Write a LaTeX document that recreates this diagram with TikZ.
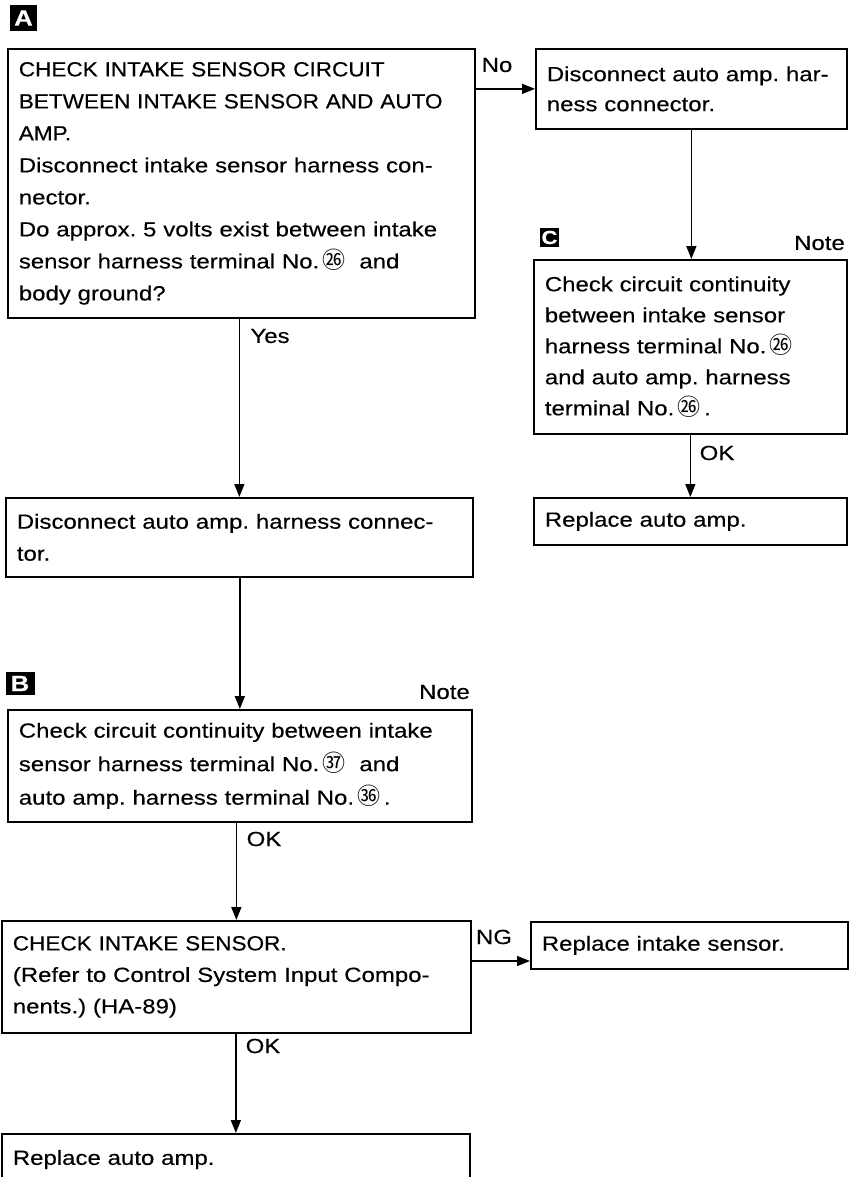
\documentclass[tikz,border=0pt]{standalone}
\usepackage{fontspec}
\setmainfont{Liberation Sans}[FakeStretch=1.17,FakeBold=0.3]
\newfontfamily\capsfont{Liberation Sans}[FakeStretch=1.10,FakeBold=0.3]
\newfontfamily\cjk{Noto Sans CJK JP}
\usetikzlibrary{arrows.meta,calc}
\newcommand{\cnum}[1]{{\cjk\fontsize{23}{23}\selectfont #1}}
\frenchspacing
\begin{document}
\begin{tikzpicture}[x=1pt,y=-1pt,
  box/.style={draw, line width=1.7pt, anchor=north west, align=left,
    inner xsep=11pt, inner ysep=0pt, font=\fontsize{20.5}{32}\selectfont},
  arr/.style={line width=1.5pt, -{Triangle[length=13pt,width=10pt]}},
  lbl/.style={inner sep=0pt, font=\fontsize{20.5}{20.5}\selectfont},
  letterbox/.style={fill=black, text=white, inner sep=0pt,
    font=\bfseries\fontsize{22}{22}\selectfont}]
\useasboundingbox (0,0) rectangle (849,1177);

% markers
\node[letterbox, minimum width=27pt, minimum height=26pt] (mA) at (23.5,18) {A};
\node[letterbox, minimum width=29pt, minimum height=23pt] (mB) at (20,683.5) {B};
\node[letterbox, minimum width=19pt, minimum height=19pt,
      font=\bfseries\fontsize{19}{19}\selectfont] (mC) at (549.5,237.5) {C};

% boxes
\node[box, minimum width=467pt, minimum height=269pt, text width=445pt] (A) at (7,48)
 {{\capsfont CHECK INTAKE SENSOR CIRCUIT}\\
  {\capsfont BETWEEN INTAKE SENSOR AND AUTO}\\
  {\capsfont AMP.}\\
  Disconnect intake sensor harness con-\\
  nector.\\
  Do approx. 5 volts exist between intake\\
  sensor harness terminal No.\,\cnum{㉖}\ \ and\\
  body ground?};

\node[box, minimum width=311pt, minimum height=80pt, text width=289pt,
      font=\fontsize{20.5}{30}\selectfont] (N1) at (535,48)
 {Disconnect auto amp. har-\\ness connector.};

\node[box, minimum width=313pt, minimum height=174pt, text width=291pt,
      font=\fontsize{20.5}{31}\selectfont] (C) at (533,259)
 {Check circuit continuity\\
  between intake sensor\\
  harness terminal No.\,\cnum{㉖}\\
  and auto amp. harness\\
  terminal No.\,\cnum{㉖}\,.};

\node[box, minimum width=313pt, minimum height=47pt, text width=291pt] (RA1) at (533,497)
 {Replace auto amp.};

\node[box, minimum width=467pt, minimum height=79pt, text width=445pt] (D) at (5,497)
 {Disconnect auto amp. harness connec-\\tor.};

\node[box, minimum width=464pt, minimum height=112pt, text width=442pt,
      font=\fontsize{20.5}{33.5}\selectfont] (B) at (7,709)
 {Check circuit continuity between intake\\
  sensor harness terminal No.\,\cnum{㊲}\ \ and\\
  auto amp. harness terminal No.\,\cnum{㊱}\,.};

\node[box, minimum width=469pt, minimum height=112pt, text width=447pt,
      font=\fontsize{20.5}{31.5}\selectfont] (E) at (1,920)
 {{\capsfont CHECK INTAKE SENSOR.}\\
  (Refer to Control System Input Compo-\\
  nents.) (HA-89)};

\node[box, minimum width=317pt, minimum height=47pt, text width=295pt] (F) at (530,921)
 {Replace intake sensor.};

\node[box, minimum width=468pt, text width=446pt, inner ysep=16pt,
      text height=15pt, text depth=60pt] (G) at (1,1133)
 {Replace auto amp.};

% connectors
\draw[arr] (N1.west -| A.east) -- (N1.west);
\draw[arr] (N1.south) -- (N1.south |- C.north);
\draw[arr] (C.south -| RA1.north) -- (RA1.north);
\draw[arr] (D.north |- A.south) -- (D.north);
\draw[arr] (B.north |- D.south) -- (B.north);
\draw[arr] (E.north |- B.south) -- (E.north);
\coordinate (ng) at ([yshift=-41pt]E.north east);
\draw[arr] (ng) -- (ng -| F.west);
\draw[arr] (G.north |- E.south) -- (G.north);

% labels
\node[lbl] (lNo) at (497,65) {No};
\node[lbl] (lYes) at (270,336) {Yes};
\node[lbl] (lOK1) at (717,453) {OK};
\node[lbl] (lOK2) at (264,839) {OK};
\node[lbl] (lNG) at (494,937) {NG};
\node[lbl] (lOK3) at (263,1046) {OK};
\node[lbl, anchor=east] (nC) at (845,243) {Note};
\node[lbl, anchor=east] (nB) at (470,692) {Note};
\end{tikzpicture}
\end{document}
